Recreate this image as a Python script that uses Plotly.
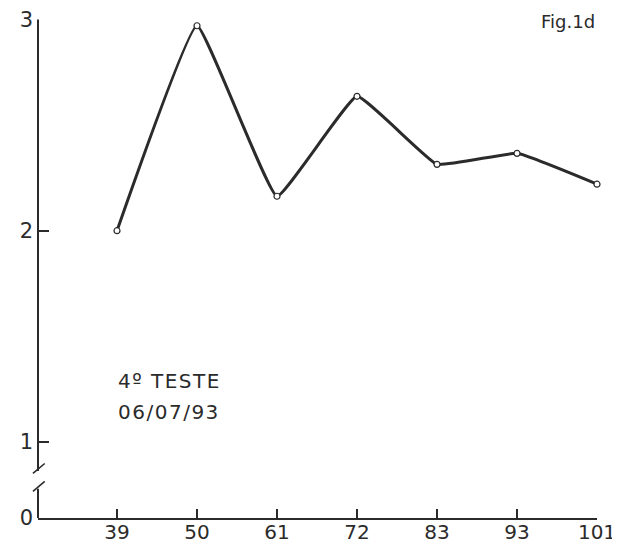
import plotly.graph_objects as go

# Data
categories = ["39", "50", "61", "72", "83", "93", "101"]
values = [2.0, 2.97, 2.163, 2.636, 2.314, 2.366, 2.22]
y_tick_vals = [1, 2, 3]
y_tick_text = ["1", "2", "3"]

# Broken y axis: 0 is drawn at this position (below the break)
ZERO_POS = 0.64
BREAK_LOW, BREAK_HIGH = 0.778, 0.863

INK = "#2b2b2b"
FONT = "DejaVu Sans"

fig = go.Figure()
fig.add_trace(go.Scatter(
    x=categories, y=values, mode="lines+markers",
    line=dict(color=INK, width=3, shape="spline", smoothing=0.3),
    marker=dict(symbol="circle", size=6, color="white", line=dict(color=INK, width=1.2)),
    cliponaxis=False, showlegend=False,
))

# page body has an 8px default margin, so the figure is sized to fit the 620x547 window
fig.update_layout(
    template="none",
    width=612, height=539,
    margin=dict(l=30, r=23, t=11, b=29),
    paper_bgcolor="white", plot_bgcolor="white",
    font=dict(family=FONT, size=21, color=INK),
    xaxis=dict(
        type="category", range=[-0.9875, len(categories) - 1],
        automargin=False,
        showline=True, linecolor=INK, linewidth=2,
        ticks="inside", ticklen=9, tickwidth=2, tickcolor=INK,
        showgrid=False, zeroline=False,
        ticklabelstandoff=-5, ticklabeloverflow="allow",
        tickfont=dict(family=FONT, size=20, color=INK),
    ),
    yaxis=dict(
        range=[ZERO_POS, 3.002], automargin=False,
        tickvals=[ZERO_POS] + y_tick_vals, ticktext=["0"] + y_tick_text,
        showline=False,
        ticks="inside", ticklen=11, tickwidth=2, tickcolor=INK,
        showgrid=False, zeroline=False,
        ticklabelstandoff=4, ticklabeloverflow="allow",
        tickfont=dict(family=FONT, size=21, color=INK),
    ),
)

# y-axis line with a break
fig.add_shape(type="line", xref="paper", yref="y", x0=0, x1=0, y0=ZERO_POS, y1=BREAK_LOW,
              line=dict(color=INK, width=2))
fig.add_shape(type="line", xref="paper", yref="y", x0=0, x1=0, y0=BREAK_HIGH, y1=3,
              line=dict(color=INK, width=2))
# break slashes
for yb in (BREAK_LOW, BREAK_HIGH):
    fig.add_shape(type="line", xref="paper", yref="y",
                  x0=-0.009, x1=0.012, y0=yb - 0.012, y1=yb + 0.035,
                  line=dict(color=INK, width=1.6))

fig.add_annotation(text="Fig.1d", xref="paper", yref="paper", x=0.948, y=0.994,
                   xanchor="center", yanchor="middle", showarrow=False,
                   font=dict(family=FONT, size=18, color=INK))
fig.add_annotation(text="<span style='letter-spacing:1.5px'>4º TESTE</span>",
                   xref="paper", yref="paper",
                   x=0.14, y=0.2745, xanchor="left", yanchor="middle",
                   showarrow=False, font=dict(family=FONT, size=20, color=INK))
fig.add_annotation(text="<span style='letter-spacing:1.5px'>06/07/93</span>",
                   xref="paper", yref="paper",
                   x=0.14, y=0.213, xanchor="left", yanchor="middle",
                   showarrow=False, font=dict(family=FONT, size=20, color=INK))

fig.write_html("out.html")
